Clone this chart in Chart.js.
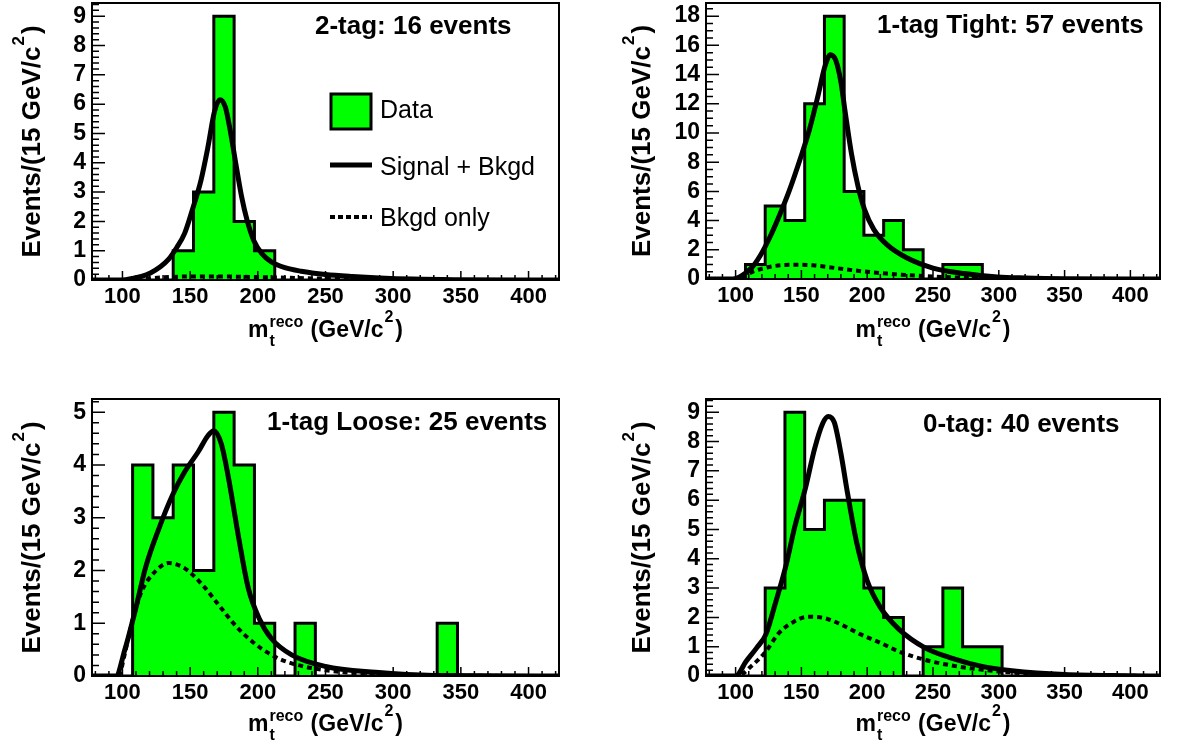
<!DOCTYPE html>
<html lang="en">
<head>
<meta charset="UTF-8">
<title>Reconstructed top mass by tag category</title>
<script src="https://cdn.jsdelivr.net/npm/chart.js"></script>
<style>
  body { margin: 0; background: #fff; overflow: hidden; }
  canvas { position: absolute; }
</style>
</head>
<body>
<canvas id="p2tag" width="588" height="370" style="left:0;top:0"></canvas>
<canvas id="p1tight" width="588" height="370" style="left:589px;top:0"></canvas>
<canvas id="p1loose" width="588" height="370" style="left:0;top:370px"></canvas>
<canvas id="p0tag" width="588" height="370" style="left:589px;top:370px"></canvas>
<script>
// 15 GeV/c^2 bins
const binEdges = [77.5, 92.5, 107.5, 122.5, 137.5, 152.5, 167.5, 182.5, 197.5, 212.5, 227.5, 242.5,
                  257.5, 272.5, 287.5, 302.5, 317.5, 332.5, 347.5, 362.5, 377.5, 392.5, 407.5, 422.5];
const xTicks = [100, 150, 200, 250, 300, 350, 400];

// events per bin
const data2tag   = [0,0,0,0,1,3,9,2,1,0,0,0,0,0,0,0,0,0,0,0,0,0,0];
const data1tight = [0,0,1,5,4,12,18,6,3,4,2,0,1,1,0,0,0,0,0,0,0,0,0];
const data1loose = [0,0,4,3,4,2,5,4,1,0,1,0,0,0,0,0,0,1,0,0,0,0,0];
const data0tag   = [0,0,0,3,9,5,6,6,3,2,0,1,3,1,1,0,0,0,0,0,0,0,0];

// fitted curves
const sig2tagX = [77.5, 100, 107, 114, 121, 128, 134, 140, 146, 152, 158, 163, 168, 172, 176, 180, 184, 188, 192, 197, 203, 210, 220, 232, 250, 270, 290, 315, 345, 422.5];
const sig2tag  = [0, 0, 0.05, 0.12, 0.25, 0.45, 0.7, 1.1, 1.6, 2.45, 3.4, 4.5, 5.75, 6.15, 5.9, 5.0, 3.9, 2.85, 2.05, 1.35, 0.9, 0.62, 0.42, 0.3, 0.19, 0.12, 0.07, 0.03, 0.01, 0];
const bkg2tagX = [77.5, 100, 110, 120, 135, 150, 170, 190, 210, 235, 260, 290, 330, 422.5];
const bkg2tag  = [0, 0, 0.02, 0.06, 0.1, 0.12, 0.12, 0.11, 0.09, 0.06, 0.04, 0.02, 0.005, 0];

const sig1tightX = [77.5, 98, 105, 112, 119, 127, 134, 141, 149, 156, 163, 168, 172, 176, 180, 183, 188, 193, 198, 205, 215, 230, 250, 274, 299, 320, 350, 422.5];
const sig1tight  = [0, 0, 0.25, 0.75, 1.65, 3.05, 4.5, 6.1, 8.2, 10.2, 12.7, 14.6, 15.35, 15.0, 13.5, 11.6, 8.6, 6.35, 4.75, 3.4, 2.35, 1.45, 0.75, 0.37, 0.14, 0.07, 0.02, 0];
const bkg1tightX = [77.5, 100, 105, 112, 122, 134, 146, 159, 176, 196, 215, 237, 274, 320, 360, 422.5];
const bkg1tight  = [0, 0, 0.07, 0.45, 0.75, 0.94, 0.98, 0.94, 0.75, 0.53, 0.37, 0.23, 0.09, 0.03, 0, 0];

const sig1looseX = [77.5, 95, 102, 110, 117, 127, 137, 146, 156, 163, 167.5, 173, 178, 186, 193, 201, 210, 225, 250, 287, 330, 422.5];
const sig1loose  = [0, 0, 0.52, 1.3, 2.05, 2.8, 3.43, 3.87, 4.25, 4.55, 4.65, 4.4, 3.8, 2.6, 1.66, 1.09, 0.71, 0.4, 0.18, 0.07, 0.01, 0];
const bkg1looseX = [77.5, 97, 102, 105, 110, 115, 122, 134, 146, 159, 171, 183, 196, 210, 225, 250, 287, 330, 422.5];
const bkg1loose  = [0, 0, 0.45, 0.8, 1.3, 1.65, 1.92, 2.14, 2.04, 1.73, 1.35, 0.97, 0.65, 0.4, 0.24, 0.11, 0.04, 0.01, 0];

const sig0tagX = [77.5, 100, 108, 116, 123, 130, 138, 145, 153, 160, 166, 170.5, 175, 180, 185, 192, 200, 210, 224, 244, 264, 288, 310, 350, 400, 422.5];
const sig0tag  = [0, 0, 0.5, 0.96, 1.42, 2.45, 3.72, 5.1, 6.4, 7.75, 8.6, 8.85, 8.65, 7.6, 6.25, 4.55, 3.25, 2.34, 1.6, 0.96, 0.61, 0.32, 0.18, 0.05, 0.01, 0];
const bkg0tagX = [77.5, 101, 113, 123, 133, 143, 155, 168, 180, 195, 210, 224, 244, 264, 288, 310, 350, 422.5];
const bkg0tag  = [0, 0, 0.38, 0.84, 1.47, 1.82, 2.02, 1.97, 1.76, 1.42, 1.13, 0.84, 0.55, 0.36, 0.21, 0.12, 0.03, 0];

const yTicks2tag   = [0, 1, 2, 3, 4, 5, 6, 7, 8, 9];
const yTicks1tight = [0, 2, 4, 6, 8, 10, 12, 14, 16, 18];
const yTicks1loose = [0, 1, 2, 3, 4, 5];
const yTicks0tag   = [0, 1, 2, 3, 4, 5, 6, 7, 8, 9];

const FONT = '"Liberation Sans", Arial, Helvetica, sans-serif';
const GREEN = '#00ff00';

function histPoints(counts) {
  const pts = counts.map((c, i) => ({ x: binEdges[i], y: c }));
  pts.push({ x: binEdges[binEdges.length - 1], y: 0 });
  return pts;
}
function curvePoints(xs, ys) {
  return xs.map((x, i) => ({ x: x, y: ys[i] }));
}

// y title "Events/(15 GeV/c^2)", rotated
function drawYTitle(ctx, bx, cy) {
  const big = 'bold 26px ' + FONT, small = 'bold 17px ' + FONT;
  ctx.save();
  ctx.translate(bx, cy);
  ctx.rotate(-Math.PI / 2);
  ctx.font = big;
  const w1 = ctx.measureText('Events/(15 GeV/c').width;
  const w3 = ctx.measureText(')').width;
  ctx.font = small;
  const w2 = ctx.measureText('2').width + 3;
  let x0 = -(w1 + w2 + w3) / 2;
  ctx.textAlign = 'left';
  ctx.textBaseline = 'alphabetic';
  ctx.font = big; ctx.fillText('Events/(15 GeV/c', x0, 0); x0 += w1;
  ctx.font = small; ctx.fillText('2', x0 + 1, -16); x0 += w2;
  ctx.font = big; ctx.fillText(')', x0, 0);
  ctx.restore();
}

// x title "m_t^reco (GeV/c^2)"
function drawXTitle(ctx, cx, base) {
  const big = 'bold 23px ' + FONT, small = 'bold 16px ' + FONT;
  ctx.save();
  ctx.textAlign = 'left';
  ctx.textBaseline = 'alphabetic';
  ctx.font = big;
  const wm = ctx.measureText('m').width;
  const wr = ctx.measureText(' (GeV/c').width;
  const wp = ctx.measureText(')').width;
  ctx.font = small;
  const ws = ctx.measureText('reco').width + 2;
  const w2 = ctx.measureText('2').width + 3;
  let x0 = cx - (wm + ws + wr + w2 + wp) / 2;
  ctx.font = big; ctx.fillText('m', x0, base); x0 += wm;
  ctx.font = small;
  ctx.fillText('reco', x0 + 1, base - 10);
  ctx.fillText('t', x0 + 1, base + 9);
  x0 += ws;
  ctx.font = big; ctx.fillText(' (GeV/c', x0, base); x0 += wr;
  ctx.font = small; ctx.fillText('2', x0 + 1, base - 15); x0 += w2;
  ctx.font = big; ctx.fillText(')', x0, base);
  ctx.restore();
}

function drawLegend(ctx) {
  ctx.save();
  ctx.fillStyle = GREEN;
  ctx.fillRect(331, 94, 40, 35);
  ctx.strokeStyle = '#000';
  ctx.lineWidth = 3;
  ctx.strokeRect(331, 94, 40, 35);
  ctx.lineWidth = 5;
  ctx.beginPath(); ctx.moveTo(330, 165); ctx.lineTo(372, 165); ctx.stroke();
  ctx.lineWidth = 4;
  ctx.setLineDash([5, 3]);
  ctx.beginPath(); ctx.moveTo(330, 217); ctx.lineTo(372, 217); ctx.stroke();
  ctx.setLineDash([]);
  ctx.fillStyle = '#000';
  ctx.font = '25px ' + FONT;
  ctx.textAlign = 'left';
  ctx.textBaseline = 'alphabetic';
  ctx.fillText('Data', 380, 118);
  ctx.fillText('Signal + Bkgd', 380, 175);
  ctx.fillText('Bkgd only', 380, 226);
  ctx.restore();
}

// ROOT-like frame, inward ticks and labels
const rootPad = {
  id: 'rootPad',
  afterDatasetsDraw(chart, args, o) {
    const { ctx, chartArea: a, scales: { x, y } } = chart;
    ctx.save();
    ctx.strokeStyle = '#000';
    ctx.lineWidth = 1.5;
    ctx.beginPath();
    for (let v = 80; v <= 420; v += 10) {
      const px = x.getPixelForValue(v);
      const len = v % 50 === 0 ? 9 : 5;
      ctx.moveTo(px, a.bottom); ctx.lineTo(px, a.bottom - len);
    }
    const nMinor = Math.round(o.yMajor / o.yMinor);
    for (let k = 0; k * o.yMinor <= y.max + 1e-9; k++) {
      const py = y.getPixelForValue(k * o.yMinor);
      const len = k % nMinor === 0 ? 13 : 7;
      ctx.moveTo(a.left, py); ctx.lineTo(a.left + len, py);
    }
    ctx.stroke();
    ctx.lineWidth = 2;
    ctx.strokeRect(a.left, a.top, a.right - a.left, a.bottom - a.top);

    ctx.fillStyle = '#000';
    ctx.font = 'bold 26px ' + FONT;
    ctx.textAlign = 'left';
    ctx.textBaseline = 'alphabetic';
    ctx.fillText(o.title, o.titleX, o.titleY);
    drawYTitle(ctx, o.yTitleX, (a.top + a.bottom) / 2);
    drawXTitle(ctx, (a.left + a.right) / 2, o.xTitleY);
    if (o.legend) drawLegend(ctx);
    ctx.restore();
  }
};

function makePad(id, p) {
  const canvas = document.getElementById(id);
  new Chart(canvas, {
    type: 'line',
    data: {
      datasets: [
        {
          label: 'Signal + Bkgd',
          data: curvePoints(p.sigX, p.sig),
          borderColor: '#000', borderWidth: 5,
          cubicInterpolationMode: 'monotone', fill: false, order: 1
        },
        {
          label: 'Bkgd only',
          data: curvePoints(p.bkgX, p.bkg),
          borderColor: '#000', borderWidth: 4, borderDash: [5, 4],
          cubicInterpolationMode: 'monotone', fill: false, order: 2
        },
        {
          label: 'Data',
          data: histPoints(p.counts),
          borderColor: '#000', borderWidth: 3,
          backgroundColor: GREEN, fill: 'origin',
          stepped: 'before', order: 3
        }
      ]
    },
    options: {
      responsive: false,
      animation: false,
      devicePixelRatio: 1,
      layout: { padding: { top: p.area.t, right: 588 - p.area.r, left: 0, bottom: 0 } },
      elements: { point: { radius: 0 } },
      scales: {
        x: {
          type: 'linear', min: 77.5, max: 422.5,
          grid: { display: false, drawTicks: false }, border: { display: false },
          afterFit: s => { s.height = 370 - p.area.b; s.paddingLeft = 0; s.paddingRight = 0; },
          afterBuildTicks: s => { s.ticks = xTicks.map(v => ({ value: v })); },
          ticks: { font: { family: FONT, size: 22, weight: 'bold' }, color: '#000', padding: 4, maxRotation: 0, autoSkip: false }
        },
        y: {
          type: 'linear', min: 0, max: p.yMax,
          grid: { display: false, drawTicks: false }, border: { display: false },
          afterFit: s => { s.width = p.area.l; s.paddingTop = 0; s.paddingBottom = 0; },
          afterBuildTicks: s => { s.ticks = p.yTicks.map(v => ({ value: v })); },
          ticks: { font: { family: FONT, size: 23, weight: 'bold' }, color: '#000', padding: 6, autoSkip: false }
        }
      },
      plugins: {
        legend: { display: false },
        tooltip: { enabled: false },
        rootPad: {
          title: p.title, titleX: p.titleX, titleY: p.titleY,
          yTitleX: p.yTitleX, xTitleY: p.xTitleY,
          yMajor: p.yMajor, yMinor: p.yMinor, legend: !!p.legend
        }
      }
    },
    plugins: [rootPad]
  });
}

makePad('p2tag', {
  area: { l: 92, t: 3, r: 559, b: 280 }, yMax: 9.45, yTicks: yTicks2tag, yMajor: 1, yMinor: 0.2,
  counts: data2tag, sigX: sig2tagX, sig: sig2tag, bkgX: bkg2tagX, bkg: bkg2tag,
  title: '2-tag: 16 events', titleX: 315, titleY: 34, yTitleX: 40, xTitleY: 337, legend: true
});
makePad('p1tight', {
  area: { l: 117, t: 3, r: 571, b: 279 }, yMax: 18.9, yTicks: yTicks1tight, yMajor: 2, yMinor: 0.5,
  counts: data1tight, sigX: sig1tightX, sig: sig1tight, bkgX: bkg1tightX, bkg: bkg1tight,
  title: '1-tag Tight: 57 events', titleX: 288, titleY: 33, yTitleX: 61, xTitleY: 337
});
makePad('p1loose', {
  area: { l: 92, t: 29, r: 559, b: 306 }, yMax: 5.25, yTicks: yTicks1loose, yMajor: 1, yMinor: 0.2,
  counts: data1loose, sigX: sig1looseX, sig: sig1loose, bkgX: bkg1looseX, bkg: bkg1loose,
  title: '1-tag Loose: 25 events', titleX: 267, titleY: 60, yTitleX: 40, xTitleY: 361
});
makePad('p0tag', {
  area: { l: 117, t: 29, r: 571, b: 306 }, yMax: 9.45, yTicks: yTicks0tag, yMajor: 1, yMinor: 0.2,
  counts: data0tag, sigX: sig0tagX, sig: sig0tag, bkgX: bkg0tagX, bkg: bkg0tag,
  title: '0-tag: 40 events', titleX: 334, titleY: 62, yTitleX: 61, xTitleY: 361
});
</script>
</body>
</html>
